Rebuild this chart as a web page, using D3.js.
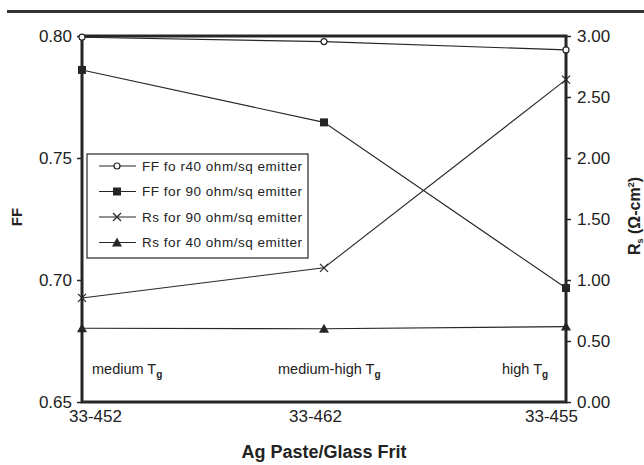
<!DOCTYPE html>
<html><head><meta charset="utf-8">
<script src="https://cdn.jsdelivr.net/npm/d3@7"></script>
<style>body{margin:0;background:#fff}svg{display:block}text{font-family:"Liberation Sans",Arial,sans-serif;fill:#222}</style>
</head><body><svg id="c" width="644" height="465"></svg>
<script>
const categories = ["33-452", "33-462", "33-455"];
const ff40 = [0.7995, 0.7977, 0.7943];
const ff90 = [0.7861, 0.7646, 0.6967];
const rs90 = [0.853, 1.10, 2.642];
const rs40 = [0.605, 0.60, 0.618];
const leftTicks = [0.65, 0.70, 0.75, 0.80];
const rightTicks = [0, 0.5, 1.0, 1.5, 2.0, 2.5, 3.0];
const annotations = [["medium", "33-452"], ["medium-high", "33-462"], ["high", "33-455"]];
const legendLabels = ["FF fo r40 ohm/sq emitter", "FF for 90 ohm/sq emitter", "Rs for 90 ohm/sq emitter", "Rs for 40 ohm/sq emitter"];

const svg = d3.select("#c");
const L = 82, R = 566, T = 36, B = 402;
const col = "#262626";
const x = d3.scalePoint().domain(categories).range([L, R]);
const yL = d3.scaleLinear().domain([0.65, 0.80]).range([B, T]);
const yR = d3.scaleLinear().domain([0, 3]).range([B, T]);

// top rule
svg.append("line").attr("x1", 7).attr("x2", 644).attr("y1", 11.5).attr("y2", 11.5).attr("stroke", "#333").attr("stroke-width", 3);

// axes
const gl = svg.append("g").attr("transform", `translate(${L},0)`)
  .call(d3.axisLeft(yL).tickValues(leftTicks).tickFormat(d3.format(".2f")).tickSize(5).tickPadding(5));
const gr = svg.append("g").attr("transform", `translate(${R},0)`)
  .call(d3.axisRight(yR).tickValues(rightTicks).tickFormat(d3.format(".2f")).tickSize(5).tickPadding(6));
const gb = svg.append("g").attr("transform", `translate(0,${B})`)
  .call(d3.axisBottom(x).tickSize(0).tickPadding(8));
[gl, gr, gb].forEach(g => {
  g.select(".domain").remove();
  g.selectAll("line").attr("stroke", col).attr("stroke-width", 1.5);
  g.selectAll("text").style("font-size", "17px").style("font-family", "Liberation Sans, Arial").attr("fill", "#2a2a2a");
});
const dxs = [13, -9, -15];
gb.selectAll("text").attr("dx", (d, i) => dxs[i]);

// frame
svg.append("rect").attr("x", L).attr("y", T).attr("width", R - L).attr("height", B - T)
  .attr("fill", "none").attr("stroke", col).attr("stroke-width", 3);

// series
const line = d3.line();
function series(vals, scale, marker) {
  const pts = vals.map((v, i) => [x(categories[i]), scale(v)]);
  svg.append("path").attr("d", line(pts)).attr("fill", "none").attr("stroke", col).attr("stroke-width", 1.1);
  pts.forEach(p => drawMarker(marker, p[0], p[1]));
}
function drawMarker(m, cx, cy) {
  if (m === "circle") svg.append("circle").attr("cx", cx).attr("cy", cy).attr("r", 3).attr("fill", "#fff").attr("stroke", col).attr("stroke-width", 1.2);
  else if (m === "square") svg.append("rect").attr("x", cx - 4).attr("y", cy - 4).attr("width", 8).attr("height", 8).attr("fill", col);
  else if (m === "cross") svg.append("path").attr("d", `M${cx-4},${cy-4}L${cx+4},${cy+4}M${cx-4},${cy+4}L${cx+4},${cy-4}`).attr("stroke", col).attr("stroke-width", 1.2);
  else if (m === "tri") svg.append("path").attr("d", `M${cx},${cy-5}L${cx+5},${cy+4}L${cx-5},${cy+4}Z`).attr("fill", col);
}
series(ff40, yL, "circle");
series(ff90, yL, "square");
series(rs90, yR, "cross");
series(rs40, yR, "tri");

// legend
const lg = svg.append("g");
lg.append("rect").attr("x", 87).attr("y", 154).attr("width", 221).attr("height", 104).attr("fill", "#fff").attr("stroke", col).attr("stroke-width", 1.2);
const markers = ["circle", "square", "cross", "tri"];
legendLabels.forEach((t, i) => {
  const yy = 166 + i * 25.5;
  lg.append("line").attr("x1", 99).attr("x2", 136).attr("y1", yy).attr("y2", yy).attr("stroke", col).attr("stroke-width", 1.1);
  drawMarker(markers[i], 117, yy);
  lg.append("text").attr("x", 142).attr("y", yy + 4.5).style("font-size", "13.5px").attr("textLength", 160).text(t);
});

// annotations
const annX = [92, 278, 502];
annotations.forEach(([w, c], i) => {
  const t = svg.append("text").attr("x", annX[i]).attr("y", 374).style("font-size", "14.5px");
  t.append("tspan").text(w + " T");
  t.append("tspan").attr("dy", 4).style("font-size", "10px").style("font-weight", "bold").text("g");
});

// axis titles
svg.append("text").attr("x", 324).attr("y", 458).attr("text-anchor", "middle").style("font-size", "18px").style("font-weight", "bold").attr("fill", "#2a2a2a").text("Ag Paste/Glass Frit");
svg.append("text").attr("transform", "translate(22,217) rotate(-90)").attr("text-anchor", "middle").style("font-size", "15px").style("font-weight", "bold").text("FF");
const rt = svg.append("text").attr("transform", "translate(640,216) rotate(-90)").attr("text-anchor", "middle").style("font-size", "16px").style("font-weight", "bold");
rt.append("tspan").text("R");
rt.append("tspan").attr("dy", 3).style("font-size", "9px").text("s");
rt.append("tspan").attr("dy", -3).text(" (Ω-cm");
rt.append("tspan").attr("dy", -6).style("font-size", "9px").text("2");
rt.append("tspan").attr("dy", 6).text(")");
</script></body></html>
